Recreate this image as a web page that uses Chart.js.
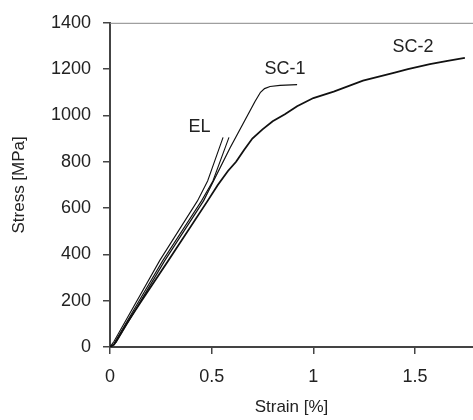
<!DOCTYPE html>
<html>
<head>
<meta charset="utf-8">
<script src="https://cdn.jsdelivr.net/npm/chart.js@4"></script>
<style>
  body { margin: 0; background: #fff; }
  #wrap { width: 473px; height: 420px; }
</style>
</head>
<body>
<div id="wrap"><canvas id="stressChart" width="473" height="420"></canvas></div>
<script>
// EL specimen, loading branch and return branch (thin double line)
const elUpStrain   = [0, 0.02, 0.245, 0.43, 0.48, 0.556];
const elUpStress   = [0, 25, 374, 631, 717, 905];
const elDownStrain = [0.585, 0.506, 0.45, 0.26, 0.02];
const elDownStress = [905, 717, 631, 374, 15];

// SC-1 specimen
const sc1Strain = [0, 0.03, 0.27, 0.46, 0.59, 0.713, 0.74, 0.76, 0.787, 0.836, 0.92];
const sc1Stress = [0, 20, 374, 631, 859, 1060, 1100, 1116, 1125, 1130, 1133];

// SC-2 specimen
const sc2Strain = [0, 0.02, 0.083, 0.157, 0.287, 0.48, 0.53, 0.58, 0.62, 0.66, 0.70, 0.75, 0.80, 0.86, 0.92, 1.00, 1.10, 1.244, 1.40, 1.465, 1.573, 1.66, 1.745];
const sc2Stress = [0, 10, 103, 202, 374, 631, 700, 760, 800, 852, 900, 940, 975, 1005, 1040, 1075, 1103, 1150, 1185, 1200, 1222, 1236, 1249];

// curve labels drawn on the plot
const curveLabels = ['EL', 'SC-1', 'SC-2'];
const labelStrain = [0.44, 0.86, 1.49];
const labelStress = [949, 1202, 1297];

const yTicks = [0, 200, 400, 600, 800, 1000, 1200, 1400];
const xTicks = [0, 0.5, 1, 1.5];

const toPoints = (xs, ys) => xs.map((x, i) => ({ x: x, y: ys[i] }));

const FONT = 'Liberation Sans, Arial, sans-serif';
const axisColor = '#444';

const curveLabelPlugin = {
  id: 'curveLabels',
  afterDatasetsDraw(chart) {
    const { ctx, scales } = chart;
    ctx.save();
    ctx.font = '18px ' + FONT;
    ctx.fillStyle = '#222';
    ctx.textAlign = 'center';
    ctx.textBaseline = 'middle';
    curveLabels.forEach((txt, i) => {
      ctx.fillText(txt, scales.x.getPixelForValue(labelStrain[i]), scales.y.getPixelForValue(labelStress[i]));
    });
    // thin top frame line
    ctx.strokeStyle = '#888';
    ctx.lineWidth = 1;
    ctx.beginPath();
    ctx.moveTo(chart.chartArea.left, chart.chartArea.top + 0.5);
    ctx.lineTo(chart.chartArea.right, chart.chartArea.top + 0.5);
    ctx.stroke();
    ctx.restore();
  }
};

const lineStyle = (w) => ({
  borderColor: '#111',
  borderWidth: w,
  pointRadius: 0,
  fill: false,
  tension: 0
});

new Chart(document.getElementById('stressChart'), {
  type: 'scatter',
  data: {
    datasets: [
      Object.assign({ label: 'EL', data: toPoints(elUpStrain, elUpStress), showLine: true }, lineStyle(1.1)),
      Object.assign({ label: 'EL return', data: toPoints(elDownStrain, elDownStress), showLine: true }, lineStyle(1.1)),
      Object.assign({ label: 'SC-1', data: toPoints(sc1Strain, sc1Stress), showLine: true }, lineStyle(1.2)),
      Object.assign({ label: 'SC-2', data: toPoints(sc2Strain, sc2Stress), showLine: true }, lineStyle(1.8))
    ]
  },
  options: {
    responsive: false,
    animation: false,
    layout: { padding: { top: 21, right: 0, left: 0, bottom: 0 } },
    plugins: {
      legend: { display: false },
      tooltip: { enabled: false }
    },
    scales: {
      x: {
        type: 'linear',
        min: 0,
        max: 1.785,
        afterFit: s => { s.height = 73; },
        afterBuildTicks: s => { s.ticks = xTicks.map(v => ({ value: v })); },
        border: { color: axisColor, width: 2 },
        grid: { display: true, drawOnChartArea: false, drawTicks: true, tickLength: 7, color: axisColor, lineWidth: 1.5 },
        ticks: { color: '#222', font: { family: FONT, size: 18 }, padding: 12, maxRotation: 0, callback: v => String(v) },
        title: { display: true, text: 'Strain [%]', color: '#222', font: { family: FONT, size: 17 }, padding: { top: 0, bottom: 2 } }
      },
      y: {
        type: 'linear',
        min: 0,
        max: 1400,
        afterFit: s => { s.width = 110; },
        afterBuildTicks: s => { s.ticks = yTicks.map(v => ({ value: v })); },
        border: { color: axisColor, width: 2 },
        grid: { display: true, drawOnChartArea: false, drawTicks: true, tickLength: 7, color: axisColor, lineWidth: 1.5 },
        ticks: { color: '#222', font: { family: FONT, size: 18 }, padding: 12, callback: v => String(v) },
        title: { display: true, text: 'Stress [MPa]', color: '#222', font: { family: FONT, size: 17 }, padding: { top: 9, bottom: 0 } }
      }
    }
  },
  plugins: [curveLabelPlugin]
});
</script>
</body>
</html>
